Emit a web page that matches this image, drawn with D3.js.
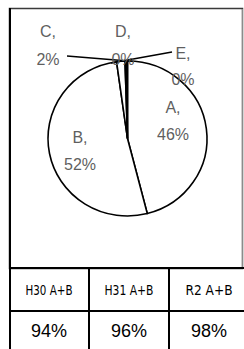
<!DOCTYPE html>
<html>
<head>
<meta charset="utf-8">
<script src="https://cdn.jsdelivr.net/npm/d3@7"></script>
<style>
  body { margin: 0; background: #fff; }
  svg { display: block; }
</style>
</head>
<body>
<div id="chart"></div>
<script>
// pie data (clockwise from 12 o'clock)
var names  = ["A", "B", "C", "D", "E"];
var shares = [46.0, 51.8, 1.7, 0.3, 0.2];
var shown  = ["46%", "52%", "2%", "0%", "0%"];

// table under the pie
var years  = ["H30 A+B", "H31 A+B", "R2 A+B"];
var totals = ["94%", "96%", "98%"];

var W = 244, H = 349;

// label anchor spots (name line, value line) and leader lines for the thin slices
var labelSpot = {
  A: {x: 173, y: 107, dy: 27},
  B: {x: 80,  y: 137, dy: 27},
  C: {x: 48,  y: 31,  dy: 28},
  D: {x: 123, y: 31,  dy: 28},
  E: {x: 183, y: 53,  dy: 26}
};
var leaders = {
  C: [[67, 56], [134, 61.5]],
  E: [[172, 52], [111, 63]]
};
var hdrWidth = [47, 49, 47];

var svg = d3.select("#chart").append("svg")
        .attr("width", W)
        .attr("height", H);

// chart frame
svg.append("rect")
        .attr("x", 9.5).attr("y", 8.5)
        .attr("width", 233).attr("height", 260)
        .attr("fill", "none")
        .attr("stroke", "#3a3a3a")
        .attr("stroke-width", 1.5);
svg.append("line")
        .attr("x1", 243).attr("x2", 243).attr("y1", 9).attr("y2", 268)
        .attr("stroke", "#ddd");

var cx = 127.5, cy = 138.5, r = 79.5;

var pie = d3.pie().sort(null).value(function(d) { return d; });
var arc = d3.arc().innerRadius(0).outerRadius(r);

var g = svg.append("g")
        .attr("transform", "translate(" + cx + "," + cy + ") scale(1,0.975)");

g.selectAll("path")
        .data(pie(shares))
        .enter().append("path")
        .attr("d", arc)
        .attr("fill", "#fff")
        .attr("stroke", "#000")
        .attr("stroke-width", 1.6)
        .attr("vector-effect", "non-scaling-stroke");

// leader lines
var line = d3.line();
Object.keys(leaders).forEach(function(k) {
  svg.append("path")
        .attr("d", line(leaders[k]))
        .attr("fill", "none")
        .attr("stroke", "#000")
        .attr("stroke-width", 1.5);
});

// slice labels
names.forEach(function(n, i) {
  var s = labelSpot[n];
  var t = svg.append("text")
        .attr("x", s.x)
        .attr("text-anchor", "middle")
        .attr("font-family", "Liberation Sans, Arial, sans-serif")
        .attr("font-size", 16)
        .attr("fill", "#5f5f5f");
  t.append("tspan").attr("x", s.x).attr("y", s.y).attr("dy", "0.35em").text(n + ",");
  t.append("tspan").attr("x", s.x).attr("y", s.y + s.dy).attr("dy", "0.35em").text(shown[i]);
});

// table
var col = d3.scaleBand().domain(years).range([9, 249]);
var rowTop = 268, rowMid = 311, rowBot = 349;

var tbl = svg.append("g").attr("stroke", "#000").attr("stroke-width", 2);
tbl.append("line").attr("x1", 9).attr("x2", W).attr("y1", rowTop).attr("y2", rowTop);
tbl.append("line").attr("x1", 9).attr("x2", W).attr("y1", rowMid).attr("y2", rowMid);
tbl.append("line").attr("x1", 10).attr("x2", 10).attr("y1", 8).attr("y2", rowBot);
tbl.selectAll(".div")
        .data(years.slice(1))
        .enter().append("line")
        .attr("x1", function(d) { return col(d); })
        .attr("x2", function(d) { return col(d); })
        .attr("y1", rowTop).attr("y2", rowBot);

svg.selectAll(".hdr")
        .data(years)
        .enter().append("text")
        .attr("x", function(d, i) { return col(d) + col.bandwidth() / 2 - hdrWidth[i] / 2; })
        .attr("y", (rowTop + rowMid) / 2)
        .attr("dy", "0.36em")
        .attr("textLength", function(d, i) { return hdrWidth[i]; })
        .attr("lengthAdjust", "spacingAndGlyphs")
        .attr("font-family", "DejaVu Sans Condensed, Liberation Sans Narrow, sans-serif")
        .attr("font-size", 14)
        .attr("fill", "#000")
        .text(function(d) { return d; });

svg.selectAll(".val")
        .data(totals)
        .enter().append("text")
        .attr("x", function(d, i) { return col(years[i]) + col.bandwidth() / 2; })
        .attr("y", (rowMid + rowBot) / 2 + 1)
        .attr("dy", "0.36em")
        .attr("text-anchor", "middle")
        .attr("font-family", "Liberation Sans, Arial, sans-serif")
        .attr("font-size", 18)
        .attr("fill", "#000")
        .text(function(d) { return d; });
</script>
</body>
</html>
